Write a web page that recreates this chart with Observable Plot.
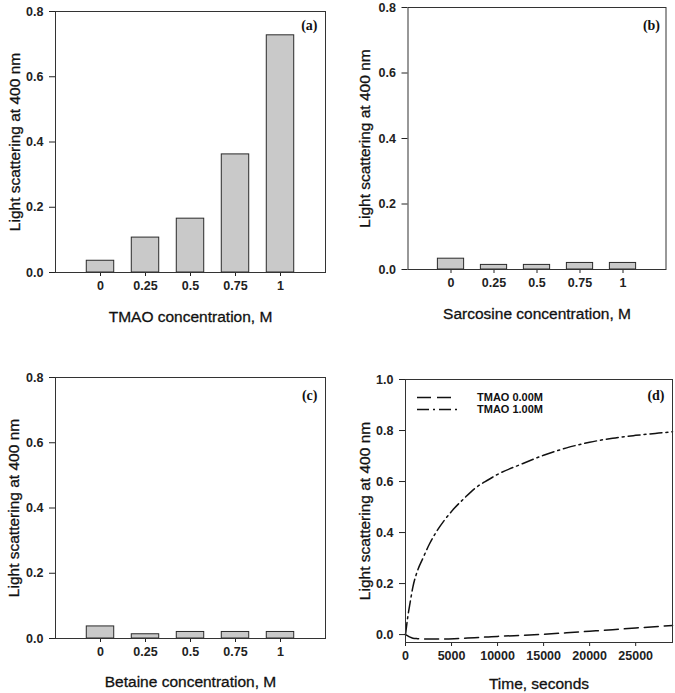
<!DOCTYPE html>
<html>
<head>
<meta charset="utf-8">
<script src="https://cdn.jsdelivr.net/npm/d3@7"></script>
<script src="https://cdn.jsdelivr.net/npm/@observablehq/plot@0.6"></script>
<style>
  html, body { margin: 0; padding: 0; background: #fff; }
  #wrap { position: relative; width: 675px; height: 693px; overflow: hidden; background: #fff; }
  .panel { position: absolute; }
  .panel svg { display: block; overflow: visible; }
</style>
</head>
<body>
<div id="wrap"></div>
<script>
// ---------- data ----------
const concentrations = ["0", "0.25", "0.5", "0.75", "1"];
const tmaoValues = [0.036, 0.107, 0.165, 0.362, 0.727];
const sarcosineValues = [0.033, 0.014, 0.014, 0.020, 0.020];
const betaineValues = [0.037, 0.013, 0.020, 0.020, 0.020];
const barTicks = [0.0, 0.2, 0.4, 0.6, 0.8];

const timeSeconds = [0, 250, 500, 800, 1300, 1900, 2600, 3300, 4200, 5300, 6400, 7500, 9000, 10000, 12500, 15000, 17500, 20000, 22500, 25000, 27500, 29000];
const tmao100 = [0, 0.07, 0.125, 0.186, 0.25, 0.30, 0.355, 0.40, 0.447, 0.495, 0.535, 0.572, 0.607, 0.628, 0.667, 0.703, 0.732, 0.754, 0.77, 0.781, 0.79, 0.795];
const tmao000 = [0, -0.005, -0.010, -0.014, -0.016, -0.017, -0.017, -0.017, -0.017, -0.016, -0.014, -0.012, -0.009, -0.007, -0.003, 0.001, 0.007, 0.013, 0.019, 0.026, 0.032, 0.036];
const timeTicks = [0, 5000, 10000, 15000, 20000, 25000];
const lineTicks = [0.0, 0.2, 0.4, 0.6, 0.8, 1.0];
const legendLabels = ["TMAO 0.00M", "TMAO 1.00M"];

const yTitle = "Light scattering at 400 nm";
const FONT = "'Liberation Sans', Arial, Helvetica, sans-serif";
const SERIF = "'Liberation Serif', 'Times New Roman', serif";

const wrap = document.getElementById("wrap");
function place(svg, left, top) {
  const d = document.createElement("div");
  d.className = "panel";
  d.style.left = left + "px";
  d.style.top = top + "px";
  d.appendChild(svg);
  wrap.appendChild(d);
}

const titleStyle = {fontSize: 15.5, fontWeight: "normal", fill: "#111", stroke: "#111", strokeWidth: 0.3,
                    textAnchor: "middle", lineAnchor: "middle"};
const tagStyle = {frameAnchor: "top-right", textAnchor: "end", lineAnchor: "middle",
                  fontFamily: SERIF, fontSize: 14, fontWeight: "bold", fill: "#111"};

function barPanel(values, xTitle, tag, cfg) {
  const data = values.map((v, i) => ({i, v}));
  return Plot.plot({
    width: cfg.width, height: cfg.height,
    marginLeft: cfg.ml, marginRight: cfg.mr, marginTop: cfg.mt, marginBottom: cfg.mb,
    style: {fontFamily: FONT, fontSize: "12.5px", fontWeight: "bold", color: "#222", background: "#fff", overflow: "visible"},
    x: {type: "linear", domain: [-1, 5], ticks: [0, 1, 2, 3, 4], tickFormat: i => concentrations[i],
        tickSize: 4, tickPadding: 5, label: null},
    y: {domain: [0, 0.8], ticks: barTicks, tickFormat: d3.format(".1f"), tickSize: 6, tickPadding: 6, label: null},
    marks: [
      Plot.rect(data, {x1: d => d.i - 0.305, x2: d => d.i + 0.305, y1: 0, y2: "v",
                       fill: "#c9c9c9", stroke: "#2a2a2a", strokeWidth: 1}),
      Plot.frame({stroke: "#333", strokeWidth: 1}),
      Plot.text([xTitle], {frameAnchor: "bottom", dy: cfg.xdy, ...titleStyle}),
      Plot.text([yTitle], {frameAnchor: "left", rotate: -90, dx: cfg.ydx, ...titleStyle}),
      Plot.text([tag], {dx: cfg.tdx, dy: cfg.tdy, ...tagStyle})
    ]
  });
}

place(barPanel(tmaoValues, "TMAO concentration, M", "(a)",
  {width: 337, height: 340, ml: 55, mr: 12, mt: 11, mb: 68, xdy: 45, ydx: -40, tdx: -8, tdy: 14}), 0, 0);
place(barPanel(sarcosineValues, "Sarcosine concentration, M", "(b)",
  {width: 338, height: 340, ml: 70.5, mr: 9.5, mt: 7, mb: 71, xdy: 44.3, ydx: -42.5, tdx: -6, tdy: 18}), 337, 0);
place(barPanel(betaineValues, "Betaine concentration, M", "(c)",
  {width: 337, height: 353, ml: 55, mr: 12, mt: 37, mb: 55, xdy: 43.7, ydx: -41.7, tdx: -8, tdy: 18}), 0, 340);

// panel (d)
const series = [
  ...timeSeconds.map((t, k) => ({t, v: tmao000[k], s: legendLabels[0]})),
  ...timeSeconds.map((t, k) => ({t, v: tmao100[k], s: legendLabels[1]}))
];
const dashes = {[legendLabels[0]]: "14,6", [legendLabels[1]]: "12,4,2,4"};
const pd = Plot.plot({
  width: 338, height: 353,
  marginLeft: 68, marginRight: 3, marginTop: 39, marginBottom: 51,
  style: {fontFamily: FONT, fontSize: "12.5px", fontWeight: "bold", color: "#222", background: "#fff", overflow: "visible"},
  x: {domain: [0, 29000], ticks: timeTicks, tickFormat: d => String(d), tickSize: 4, tickPadding: 5, label: null},
  y: {domain: [-0.031, 1.0], ticks: lineTicks, tickFormat: d3.format(".1f"), tickSize: 6, tickPadding: 6, label: null},
  marks: [
    ...legendLabels.map(name => Plot.line(series.filter(d => d.s === name), {
      x: "t", y: "v", stroke: "#111", strokeWidth: 1.5, curve: "monotone-x", strokeDasharray: dashes[name]
    })),
    Plot.frame({stroke: "#333", strokeWidth: 1}),
    Plot.text(["Time, seconds"], {frameAnchor: "bottom", dy: 41.3, ...titleStyle}),
    Plot.text([yTitle], {frameAnchor: "left", rotate: -90, dx: -40, ...titleStyle}),
    Plot.text(["(d)"], {dx: -8, dy: 16, ...tagStyle})
  ]
});
// legend (drawn inside the frame of panel d)
const lg = d3.select(pd).append("g").attr("aria-label", "legend");
legendLabels.forEach((name, k) => {
  const y = 57.5 + k * 12;
  lg.append("line").attr("x1", 80).attr("x2", 120).attr("y1", y).attr("y2", y)
    .attr("stroke", "#111").attr("stroke-width", 1.5).attr("stroke-dasharray", dashes[name]);
  lg.append("text").attr("x", 140).attr("y", y).attr("dy", "0.35em")
    .attr("text-anchor", "start")
    .attr("font-family", FONT).attr("font-size", 11).attr("font-weight", "bold").attr("fill", "#111")
    .text(name);
});
place(pd, 337, 340);
</script>
</body>
</html>
